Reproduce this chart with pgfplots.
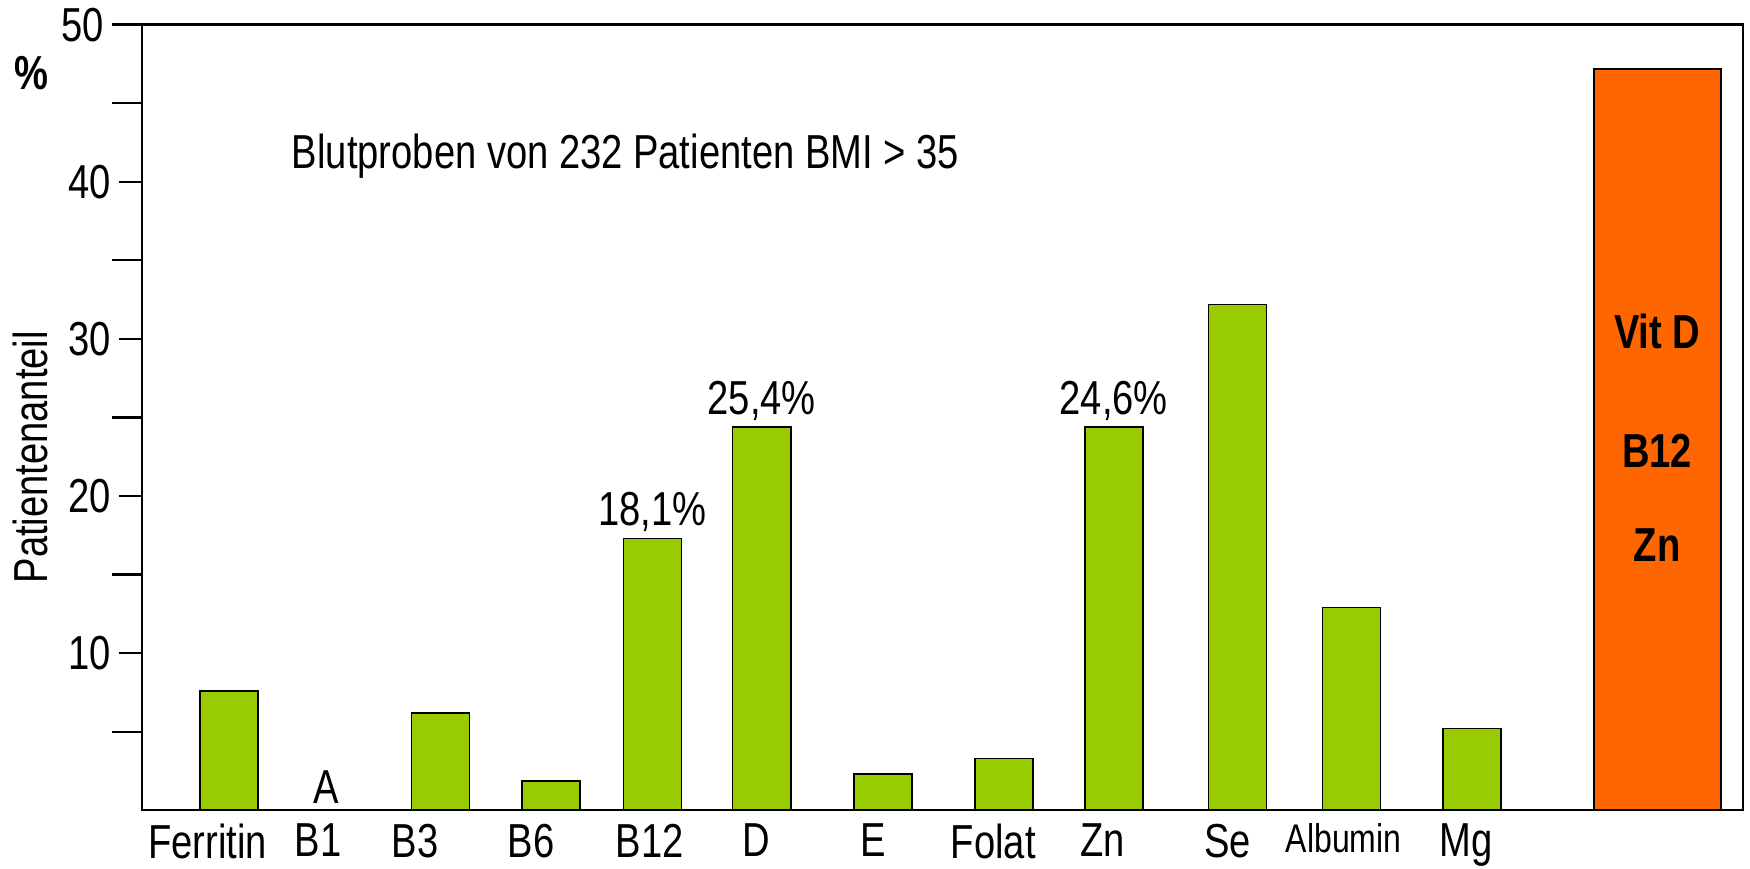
\documentclass[border=0pt]{standalone}
\usepackage{fontspec}
\setmainfont{Liberation Sans}[FakeStretch=0.8]
\usepackage{pgfplots}
\pgfplotsset{compat=1.18}
\definecolor{barlime}{RGB}{153,204,0}
\definecolor{barorange}{RGB}{255,102,0}

\begin{document}
\begin{tikzpicture}[font=\fontsize{12.4}{14.8}\selectfont]
\begin{axis}[
    name=ax,
    scale only axis,
    width=416.4pt, height=204.3pt,
    xmin=0, xmax=14.35,
    ymin=0, ymax=50,
    axis line style={line width=0.6pt},
    ytick={10,20,30,40},
    extra y ticks={50},
    minor ytick={5,15,25,35,45},
    ytick pos=left,
    tick align=outside,
    major tick length=6pt,
    minor tick length=7.8pt,
    extra y tick style={major tick length=7.8pt},
    tick style={black, line width=0.6pt},
    yticklabel style={xshift=1.5pt},
    xtick={0.59,1.58,2.45,3.49,4.55,5.51,6.55,7.63,8.61,9.73,10.77,11.87},
    xticklabels={Ferritin,B1,B3,B6,B12,D,E,Folat,Zn,Se,{\fontsize{10.4}{12}\selectfont Albumin},Mg},
    xtick style={draw=none},
    xticklabel style={yshift=6pt},
    /pgf/number format/assume math mode=true,
]
% green bars
\addplot[ybar, bar shift=0pt, bar width=0.52, fill=barlime, draw=black, line width=0.4pt]
  coordinates {
    (0.78,7.6) (2.675,6.2) (3.665,1.85) (4.575,17.3) (5.555,24.4)
    (6.64,2.3) (7.725,3.3) (8.71,24.4) (9.82,32.2) (10.84,12.9) (11.92,5.2)
  };
% summary bar
\addplot[ybar, bar shift=0pt, bar width=1.14, fill=barorange, draw=black, line width=0.5pt]
  coordinates {(13.58,47.2)};

\node at (rel axis cs:0.302,0.833) {Blutproben von 232 Patienten BMI > 35};
\node[anchor=south, inner sep=1.5pt] at (axis cs:4.575,17.3) {18,1\%};
\node[anchor=south, inner sep=1.5pt] at (axis cs:5.555,24.4) {25,4\%};
\node[anchor=south, inner sep=1.5pt] at (axis cs:8.71,24.4) {24,6\%};
\node[anchor=south, inner sep=1.5pt] at (axis cs:1.65,0) {A};
\node[font=\fontsize{12.4}{14.8}\selectfont\bfseries] at (axis cs:13.58,30.5) {Vit D};
\node[font=\fontsize{12.4}{14.8}\selectfont\bfseries] at (axis cs:13.58,22.9) {B12};
\node[font=\fontsize{12.4}{14.8}\selectfont\bfseries] at (axis cs:13.58,16.9) {Zn};
\end{axis}
\node[font=\fontsize{12.4}{14.8}\selectfont\bfseries] at ([xshift=-28.6pt,yshift=-12.7pt]ax.north west) {\%};
\node[rotate=90] at ([xshift=-28.9pt,yshift=91.8pt]ax.south west) {Patientenanteil};
\pgfresetboundingbox
\path ([xshift=-36.9pt,yshift=-15.1pt]ax.south west) rectangle ([xshift=1.8pt,yshift=6.4pt]ax.north east);
\end{tikzpicture}
\end{document}
